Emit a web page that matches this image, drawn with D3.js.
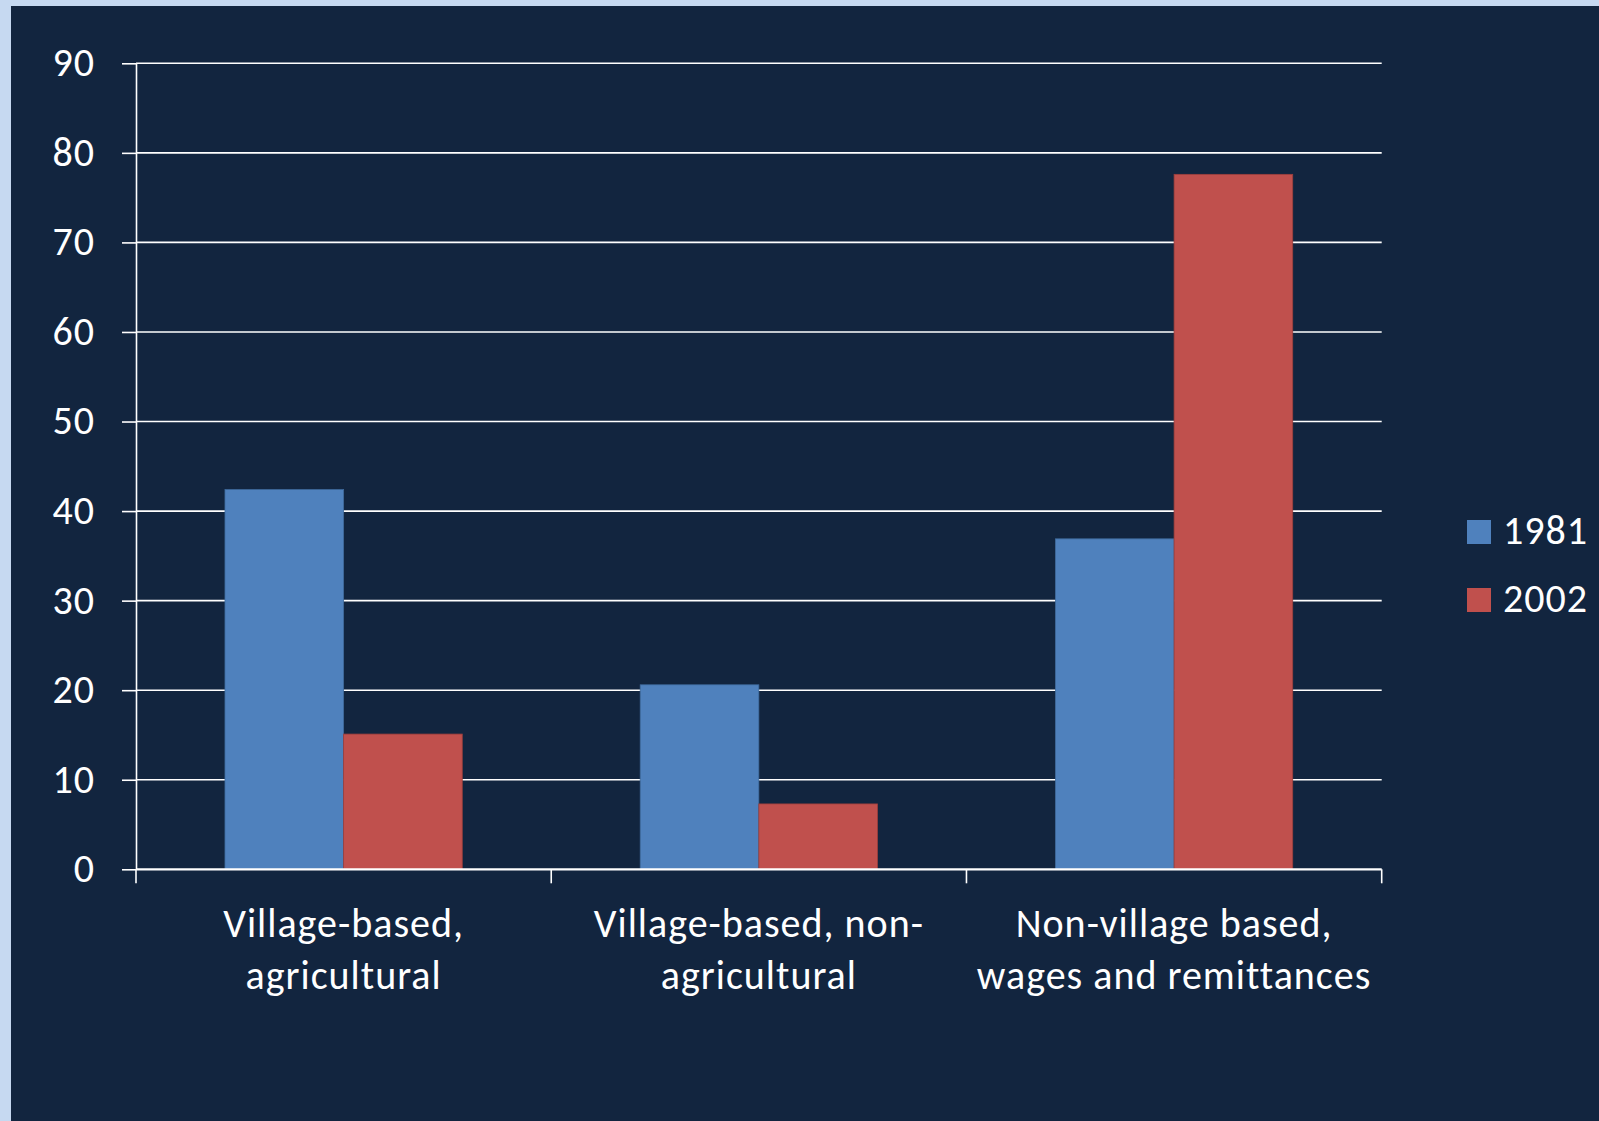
<!DOCTYPE html>
<html>
<head>
<meta charset="utf-8">
<script src="https://cdn.jsdelivr.net/npm/d3@7"></script>
<style>
  html, body { margin: 0; padding: 0; background: #c6d9f1; }
  svg { display: block; }
  text { font-family: Carlito, Calibri, Lato, sans-serif; fill: #ffffff; letter-spacing: 1px; }
</style>
</head>
<body>
<svg id="chart" width="1599" height="1121"></svg>
<script>
// Income sources, share of household income (%)
const categories = [
  "Village-based, agricultural",
  "Village-based, non-agricultural",
  "Non-village based, wages and remittances"
];
// Category labels as they wrap onto two lines
const categoryLines = [
  ["Village-based,", "agricultural"],
  ["Village-based, non-", "agricultural"],
  ["Non-village based,", "wages and remittances"]
];
const seriesNames = ["1981", "2002"];
const values1981 = [42.4, 20.6, 36.9];
const values2002 = [15.1, 7.3, 77.6];
const yTicks = [0, 10, 20, 30, 40, 50, 60, 70, 80, 90];
const seriesColors = ["#4f81bd", "#c0504d"];
const seriesStrokes = ["#3f6a9c", "#9c3f3c"];

const seriesValues = [values1981, values2002];
const rows = categories.map((c, i) => ({
  category: c,
  values: seriesNames.map((s, j) => ({ series: s, value: seriesValues[j][i] }))
}));

const svg = d3.select("#chart");
const W = 1599, H = 1121;
const fontSize = "40px";

// Light frame and dark panel
svg.append("rect").attr("width", W).attr("height", H).attr("fill", "#c6d9f1");
svg.append("rect").attr("x", 11).attr("y", 6).attr("width", W - 11).attr("height", H - 6).attr("fill", "#12253f");

const plot = { left: 136, right: 1381.7, top: 63.3, bottom: 869.3 };

const x0 = d3.scaleBand().domain(categories).range([plot.left, plot.right]).paddingInner(0).paddingOuter(0);
const x1 = d3.scaleBand().domain(seriesNames).range([0, x0.bandwidth()]).paddingInner(0).paddingOuter(0.75);
const y = d3.scaleLinear().domain([0, 90]).range([plot.bottom, plot.top]);

// Horizontal gridlines
svg.append("g")
  .selectAll("line")
  .data(yTicks.filter(t => t > 0))
  .join("line")
  .attr("x1", plot.left).attr("x2", plot.right)
  .attr("y1", d => y(d)).attr("y2", d => y(d))
  .attr("stroke", "#ffffff").attr("stroke-width", 1.6);

// Bars
const groups = svg.append("g")
  .selectAll("g")
  .data(rows)
  .join("g")
  .attr("transform", d => `translate(${x0(d.category)},0)`);

groups.selectAll("rect")
  .data(d => d.values)
  .join("rect")
  .attr("x", d => x1(d.series))
  .attr("y", d => y(d.value))
  .attr("width", x1.bandwidth())
  .attr("height", d => y(0) - y(d.value))
  .attr("fill", (d, i) => seriesColors[i])
  .attr("stroke", (d, i) => seriesStrokes[i])
  .attr("stroke-width", 0.8);

// Y axis
const yAxis = svg.append("g")
  .attr("transform", `translate(${plot.left},0)`)
  .call(d3.axisLeft(y).tickValues(yTicks).tickSize(14).tickSizeOuter(0).tickPadding(27).tickFormat(d3.format("d")));
yAxis.select(".domain").attr("stroke", "#ffffff").attr("stroke-width", 1.6);
yAxis.selectAll(".tick line").attr("stroke", "#ffffff").attr("stroke-width", 1.6);
yAxis.selectAll(".tick text")
  .attr("fill", "#ffffff")
  .style("font-family", "Carlito, Calibri, Lato, sans-serif")
  .style("font-size", fontSize)
  .attr("dy", "0.31em");

// X axis with ticks at category boundaries
const xAxis = svg.append("g").attr("transform", `translate(0,${plot.bottom})`);
xAxis.append("line")
  .attr("x1", plot.left).attr("x2", plot.right)
  .attr("stroke", "#ffffff").attr("stroke-width", 2.2);
const boundaries = categories.map(c => x0(c)).concat([x0(categories[categories.length - 1]) + x0.bandwidth()]);
xAxis.selectAll("line.tk")
  .data(boundaries)
  .join("line")
  .attr("class", "tk")
  .attr("x1", d => d).attr("x2", d => d)
  .attr("y1", 0).attr("y2", 14)
  .attr("stroke", "#ffffff").attr("stroke-width", 1.6);

// Category labels
const labels = svg.append("g")
  .selectAll("text")
  .data(categories)
  .join("text")
  .attr("text-anchor", "middle")
  .style("font-size", fontSize)
  .attr("x", d => x0(d) + x0.bandwidth() / 2)
  .attr("y", 937);
labels.selectAll("tspan")
  .data((d, i) => categoryLines[i])
  .join("tspan")
  .attr("x", function () { return d3.select(this.parentNode).attr("x"); })
  .attr("dy", (d, i) => i === 0 ? 0 : 52)
  .text(d => d);

// Legend
const legend = svg.append("g")
  .selectAll("g")
  .data(seriesNames)
  .join("g")
  .attr("transform", (d, i) => `translate(1467,${520 + i * 68})`);
legend.append("rect")
  .attr("width", 24).attr("height", 24)
  .attr("fill", (d, i) => seriesColors[i]);
legend.append("text")
  .attr("x", 36).attr("y", 24)
  .style("font-size", fontSize)
  .text(d => d);
</script>
</body>
</html>
